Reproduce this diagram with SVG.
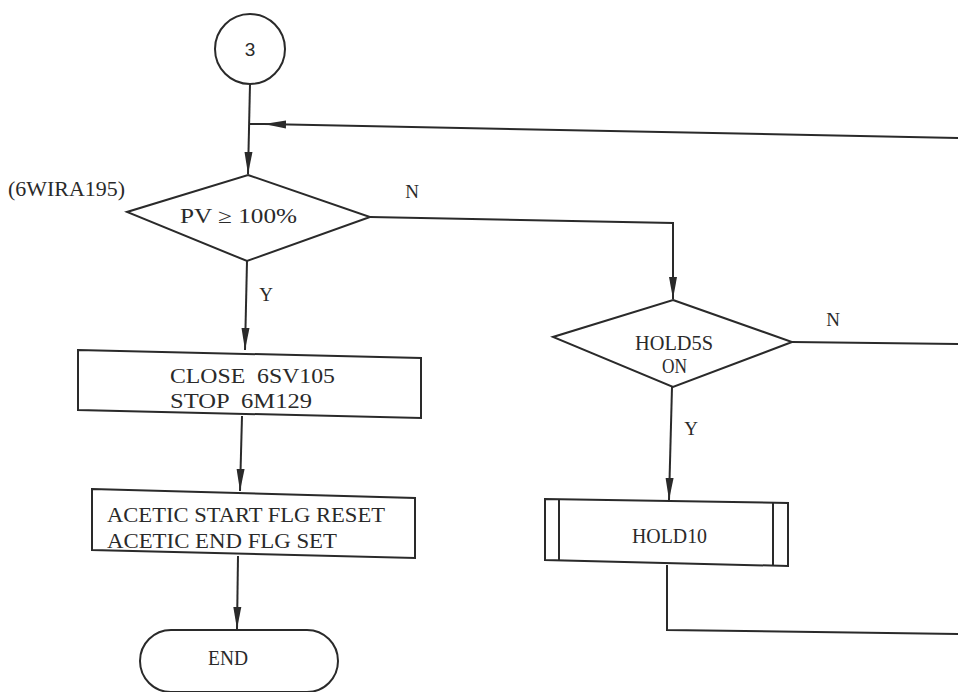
<svg xmlns="http://www.w3.org/2000/svg" width="958" height="692" viewBox="0 0 958 692">
<style>
.s{fill:none;stroke:#2a2a2a;stroke-width:2}
.b{fill:#fff;stroke:#2a2a2a;stroke-width:2}
.t{font-family:"Liberation Serif","DejaVu Serif",serif;font-size:20px;fill:#2a2a2a}
.l{font-family:"Liberation Serif","DejaVu Serif",serif;font-size:19px;fill:#2a2a2a;text-anchor:middle}
</style>
<defs>
<marker id="ar" markerUnits="userSpaceOnUse" markerWidth="24" markerHeight="10" refX="22" refY="5" orient="auto">
<path d="M0,1 L22,5 L0,9 Z" fill="#2a2a2a"/>
</marker>
</defs>
<rect width="958" height="692" fill="#fff"/>
<g id="connectors">
<path class="s" d="M250,84 L248,174" marker-end="url(#ar)"/>
<path class="s" d="M958,138 L264,124" marker-end="url(#ar)"/>
<path class="s" d="M264,124 L249,124"/>
<path class="s" d="M247,261 L245,350" marker-end="url(#ar)"/>
<path class="s" d="M370,217 L673,223 L673,299" marker-end="url(#ar)"/>
<path class="s" d="M242,416 L240,491" marker-end="url(#ar)"/>
<path class="s" d="M238,556 L237,629" marker-end="url(#ar)"/>
<path class="s" d="M672,387 L669,500" marker-end="url(#ar)"/>
<path class="s" d="M792,342 L958,344"/>
<path class="s" d="M667,565 L667,630 L958,634"/>
<text class="l" x="412" y="198">N</text>
<text class="l" x="266" y="301">Y</text>
<text class="l" x="833" y="326">N</text>
<text class="l" x="691" y="435">Y</text>
</g>
<g id="start">
<circle class="b" cx="250" cy="49" r="35"/>
<text x="250" y="56" font-family="Liberation Sans,Arial,sans-serif" font-size="19" fill="#2a2a2a" text-anchor="middle">3</text>
</g>
<g id="label6wira">
<text class="t" x="8" y="196" textLength="117" lengthAdjust="spacingAndGlyphs">(6WIRA195)</text>
</g>
<g id="d1">
<polygon class="b" points="248,175 370,217 247,261 127,212"/>
<text class="t" x="180" y="223" textLength="117" lengthAdjust="spacingAndGlyphs">PV ≥ 100%</text>
</g>
<g id="p1">
<polygon class="b" points="78,350 421,358 421,418 78,410"/>
<text class="t" x="170" y="383" textLength="165" lengthAdjust="spacingAndGlyphs" xml:space="preserve">CLOSE  6SV105</text>
<text class="t" x="170" y="408" textLength="142" lengthAdjust="spacingAndGlyphs" xml:space="preserve">STOP  6M129</text>
</g>
<g id="p2">
<polygon class="b" points="92,489 415,498 415,558 92,550"/>
<text class="t" x="107" y="522" textLength="278" lengthAdjust="spacingAndGlyphs">ACETIC START FLG RESET</text>
<text class="t" x="107" y="548" textLength="230" lengthAdjust="spacingAndGlyphs">ACETIC END FLG SET</text>
</g>
<g id="end">
<rect class="b" x="140" y="630" width="198" height="62" rx="31"/>
<text class="t" x="208" y="665" textLength="40" lengthAdjust="spacingAndGlyphs">END</text>
</g>
<g id="d2">
<polygon class="b" points="673,300 792,342 673,387 553,337"/>
<text class="t" x="635" y="350" textLength="78" lengthAdjust="spacingAndGlyphs">HOLD5S</text>
<text class="t" x="662" y="373" textLength="25" lengthAdjust="spacingAndGlyphs">ON</text>
</g>
<g id="hold10">
<polygon class="b" points="545,499 788,503 788,566 545,560"/>
<path class="s" d="M559,499 L559,560 M773,503 L773,566"/>
<text class="t" x="632" y="543" textLength="75" lengthAdjust="spacingAndGlyphs">HOLD10</text>
</g>
</svg>
